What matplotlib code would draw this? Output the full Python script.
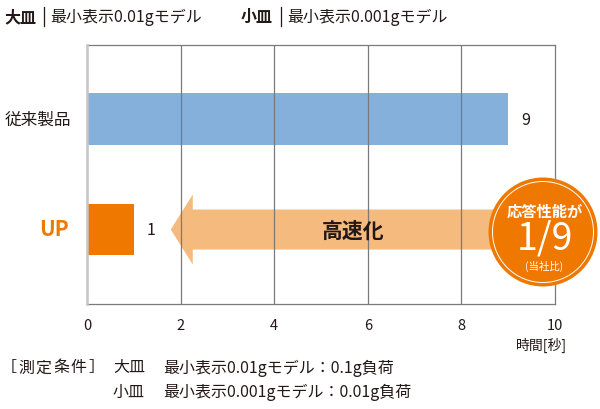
import matplotlib
matplotlib.use("Agg")
import matplotlib.pyplot as plt
from matplotlib.patches import Polygon, Circle

plt.rcParams['font.family'] = ['Noto Sans CJK JP', 'DejaVu Sans']

# ---- data ----
categories = ["UP", "従来製品"]
times = [1, 9]
bar_colors = ["#EE7800", "#86B0DC"]
xticks = [0, 2, 4, 6, 8, 10]
xlabel = "時間[秒]"
header = [("大皿", "最小表示0.01gモデル"), ("小皿", "最小表示0.001gモデル")]
cond_title = "［測定条件］"
conditions = [("大皿", "最小表示0.01gモデル：0.1g負荷"), ("小皿", "最小表示0.001gモデル：0.01g負荷")]
arrow_text = "高速化"
badge_top = "応答性能が"
badge_ratio = "1/9"
badge_note = "(当社比)"

TXT = "#231815"
W, H = 600, 410
fig = plt.figure(figsize=(6, 4.1), dpi=100)

def fx(x):
    return x / W

def fy(y):
    return 1 - y / H

ax = fig.add_axes([fx(87), fy(305), fx(555) - fx(87), fy(46) - fy(305)])
ypos = list(range(len(categories)))
ax.barh(ypos, times, height=0.47, color=bar_colors, zorder=2)
ax.set_xlim(0, 10)
ax.set_ylim(-0.674, 1.670)
ax.set_xticks(xticks)
ax.set_xticklabels([str(t) for t in xticks], fontsize=10.5, color=TXT)
ax.tick_params(axis='x', length=0, pad=10)
ax.set_yticks([])
for x in xticks[1:-1]:
    ax.axvline(x, color="#7a7a7a", lw=0.9, zorder=3)
for s in ["top", "bottom", "right"]:
    ax.spines[s].set_color("#7a7a7a")
    ax.spines[s].set_linewidth(0.9)
ax.spines["left"].set_color("#c4c4c4")
ax.spines["left"].set_linewidth(1.8)
ax.spines["left"].set_zorder(4)

# value labels
for y, v in zip(ypos, times):
    ax.text(v + 0.28, y, str(v), ha="left", va="center", fontsize=11.5, color=TXT)

# category labels
fig.text(fx(38), fy(120), categories[1], ha="center", va="center", fontsize=12, color=TXT)
fig.text(fx(54), fy(229), categories[0], ha="center", va="center", fontsize=15,
         fontweight="bold", color="#EE7800")

# arrow from conventional to UP
tail = times[1] + 0.2
tip = times[0] + 0.79
head_base = tip + 0.47
bh, hh = 0.181, 0.317
y0 = ypos[0]
arrow = Polygon([(tail, y0 - bh), (head_base, y0 - bh), (head_base, y0 - hh), (tip, y0),
                 (head_base, y0 + hh), (head_base, y0 + bh), (tail, y0 + bh)],
                closed=True, facecolor="#F5BB7E", edgecolor="none", zorder=2.5)
ax.add_patch(arrow)
ax.text(5.68, y0 - 0.01, arrow_text, ha="center", va="center", fontsize=15,
        fontweight="bold", color=TXT, zorder=5)

# badge circle (in inches, so it stays round)
cx, cy, r = 5.43, (H - 233) / 100, 0.545
fig.add_artist(Circle((cx, cy), r, transform=fig.dpi_scale_trans, facecolor="#EE7800",
                      edgecolor="none", zorder=10))
fig.add_artist(Circle((cx, cy), r - 0.04, transform=fig.dpi_scale_trans, facecolor="none",
                      edgecolor="white", lw=0.7, zorder=11))
fig.text(fx(545), fy(212), badge_top, ha="center", va="center", fontsize=11,
         fontweight="bold", color="white", zorder=12)
fig.text(fx(545), fy(239), badge_ratio, ha="center", va="center", fontsize=27,
         color="white", zorder=12)
fig.text(fx(544), fy(266), badge_note, ha="center", va="center", fontsize=7.5,
         color="white", zorder=12)

# x label
fig.text(fx(567), fy(345), xlabel, ha="right", va="center", fontsize=10, color=TXT)

# header
hx = [(4, 44, 50), (241, 281, 287)]
for (name, desc), (x1, xb, x2) in zip(header, hx):
    fig.text(fx(x1), fy(17), name, ha="left", va="center", fontsize=11.5,
             fontweight="bold", color=TXT)
    fig.add_artist(plt.Line2D([fx(xb), fx(xb)], [fy(8), fy(27)], color=TXT, lw=0.9))
    fig.text(fx(x2), fy(17), desc, ha="left", va="center", fontsize=11.5, color=TXT)

# footer (title is letter-spaced in the reference)
for i, ch in enumerate(cond_title):
    fig.text(fx(8.5 + 17.6 * i), fy(368), ch, ha="center", va="center", fontsize=11.5,
             color=TXT)
for i, (name, desc) in enumerate(conditions):
    yy = 368 + 24 * i
    fig.text(fx(113), fy(yy), name, ha="left", va="center", fontsize=11.5, color=TXT)
    fig.text(fx(163), fy(yy), desc, ha="left", va="center", fontsize=11.5, color=TXT)

fig.savefig("out.png", dpi=100)
